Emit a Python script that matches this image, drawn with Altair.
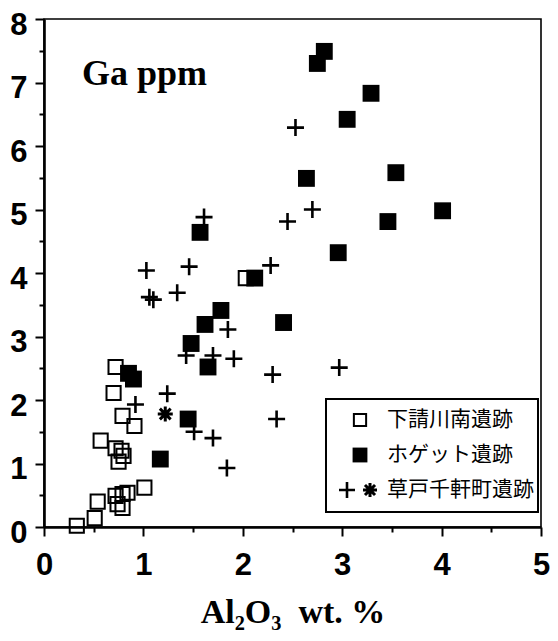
import altair as alt
import pandas as pd

# ---- data ----
shimo_x = [0.72, 0.70, 0.79, 0.91, 0.57, 0.72, 0.78, 0.80, 0.75, 0.54, 0.72, 0.79, 0.84, 0.74, 0.79, 1.01, 0.51, 0.33, 2.03]
shimo_y = [2.52, 2.11, 1.75, 1.59, 1.36, 1.24, 1.20, 1.12, 1.03, 0.40, 0.49, 0.52, 0.54, 0.36, 0.30, 0.62, 0.14, 0.02, 3.92]

hoget_x = [0.85, 0.90, 1.17, 1.45, 1.48, 1.65, 1.62, 1.78, 2.12, 2.41, 1.57, 2.64, 2.96, 3.46, 4.01, 3.54, 3.05, 3.29, 2.75, 2.82]
hoget_y = [2.42, 2.33, 1.07, 1.70, 2.89, 2.52, 3.19, 3.41, 3.92, 3.22, 4.64, 5.49, 4.32, 4.81, 4.98, 5.58, 6.42, 6.83, 7.30, 7.49]

kusado_x = [1.03, 1.46, 1.06, 1.10, 1.34, 1.61, 2.28, 1.85, 1.43, 1.70, 1.91, 2.30, 2.97, 1.24, 0.92, 1.51, 1.70, 2.34, 1.84, 2.45, 2.70, 2.53]
kusado_y = [4.04, 4.10, 3.62, 3.58, 3.69, 4.88, 4.12, 3.11, 2.70, 2.70, 2.65, 2.40, 2.51, 2.10, 1.93, 1.50, 1.40, 1.70, 0.93, 4.81, 5.00, 6.29]

kusado_star_x = [1.22]
kusado_star_y = [1.78]

site_names = ["下請川南遺跡", "ホゲット遺跡", "草戸千軒町遺跡"]
x_ticks = [0, 0.5, 1, 1.5, 2, 2.5, 3, 3.5, 4, 4.5, 5]
y_ticks = [0, 0.5, 1, 1.5, 2, 2.5, 3, 3.5, 4, 4.5, 5, 5.5, 6, 6.5, 7, 7.5, 8]
x_title = "Al₂O₃\u00a0\u00a0wt. %"
panel_label = "Ga ppm"

# ---- chart ----
CROSS = "M-1,0H1M0,-1V1"
STAR = "M-1,0H1M0,-1V1M-0.72,-0.72L0.72,0.72M-0.72,0.72L0.72,-0.72"

tick_size = {"condition": {"test": "datum.value % 1 === 0", "value": 9}, "value": 5}
lab_expr = "datum.value % 1 === 0 ? format(datum.value, 'd') : ''"

x_enc = alt.X(
    "x:Q",
    scale=alt.Scale(domain=[0, 5], nice=False, zero=True),
    axis=alt.Axis(
        values=x_ticks, labelExpr=lab_expr, tickSize=tick_size, title=x_title,
        labelFont="Liberation Sans", labelFontWeight="bold", labelFontSize=31,
        labelPadding=14, labelOverlap=False, labelFlush=False,
        titleFont="Liberation Serif", titleFontWeight="bold", titleFontSize=34,
        titlePadding=15, grid=False,
    ),
)
y_enc = alt.Y(
    "y:Q",
    scale=alt.Scale(domain=[0, 8], nice=False, zero=True),
    axis=alt.Axis(
        values=y_ticks, labelExpr=lab_expr, tickSize=tick_size, title=None,
        labelFont="Liberation Sans", labelFontWeight="bold", labelFontSize=31,
        labelPadding=8, labelOffset=6, labelOverlap=False, labelFlush=False, grid=False,
    ),
)

df_s = pd.DataFrame({"x": shimo_x, "y": shimo_y})
df_h = pd.DataFrame({"x": hoget_x, "y": hoget_y})
df_k = pd.DataFrame({"x": kusado_x, "y": kusado_y})
df_a = pd.DataFrame({"x": kusado_star_x, "y": kusado_star_y})

open_sq = alt.Chart(df_s).mark_point(
    shape="square", filled=False, size=200, stroke="black", strokeWidth=2, opacity=1
).encode(x=x_enc, y=y_enc)

filled_sq = alt.Chart(df_h).mark_point(
    shape="square", filled=True, size=285, fill="black", opacity=1
).encode(x=x_enc, y=y_enc)

crosses = alt.Chart(df_k).mark_point(
    shape=CROSS, filled=False, size=289, stroke="black", strokeWidth=2.6, opacity=1
).encode(x=x_enc, y=y_enc)

stars = alt.Chart(df_a).mark_point(
    shape=STAR, filled=False, size=225, stroke="black", strokeWidth=3, opacity=1
).encode(x=x_enc, y=y_enc)

one = alt.Data(values=[{"k": 1}])

label = alt.Chart(one).mark_text(
    text=panel_label, font="Liberation Serif", fontWeight="bold", fontSize=36,
    align="left", baseline="alphabetic", color="black"
).encode(x=alt.value(38), y=alt.value(66))

# legend (drawn by hand)
leg_box = alt.Chart(one).mark_rect(fill="white", stroke="black", strokeWidth=2).encode(
    x=alt.value(282), x2=alt.value(494), y=alt.value(380), y2=alt.value(493)
)
row_y = [401, 436, 471]
leg_layers = [leg_box]
leg_layers.append(alt.Chart(one).mark_point(
    shape="square", filled=False, size=150, stroke="black", strokeWidth=2, opacity=1
).encode(x=alt.value(316), y=alt.value(row_y[0])))
leg_layers.append(alt.Chart(one).mark_point(
    shape="square", filled=True, size=220, fill="black", opacity=1
).encode(x=alt.value(316), y=alt.value(row_y[1])))
leg_layers.append(alt.Chart(one).mark_point(
    shape=CROSS, filled=False, size=256, stroke="black", strokeWidth=2.6, opacity=1
).encode(x=alt.value(303), y=alt.value(row_y[2])))
leg_layers.append(alt.Chart(one).mark_point(
    shape=STAR, filled=False, size=196, stroke="black", strokeWidth=3, opacity=1
).encode(x=alt.value(326), y=alt.value(row_y[2])))
for name, yy in zip(site_names, row_y):
    leg_layers.append(alt.Chart(one).mark_text(
        text=name, font="Noto Sans CJK JP", fontSize=21, align="left",
        baseline="middle", color="black"
    ).encode(x=alt.value(343), y=alt.value(yy)))

chart = alt.layer(
    open_sq, filled_sq, crosses, stars, label, *leg_layers
).properties(
    width=497, height=508,
    autosize=alt.AutoSizeParams(type="none"),
    padding={"left": 36, "top": 11, "right": 9, "bottom": 106},
).configure_view(
    stroke="black", strokeWidth=1.6
).configure_axis(
    domainColor="black", domainWidth=2.6, tickColor="black", tickWidth=2,
    labelColor="black", titleColor="black",
)

chart.save("out.html", embed_options={"renderer": "svg", "actions": False})
